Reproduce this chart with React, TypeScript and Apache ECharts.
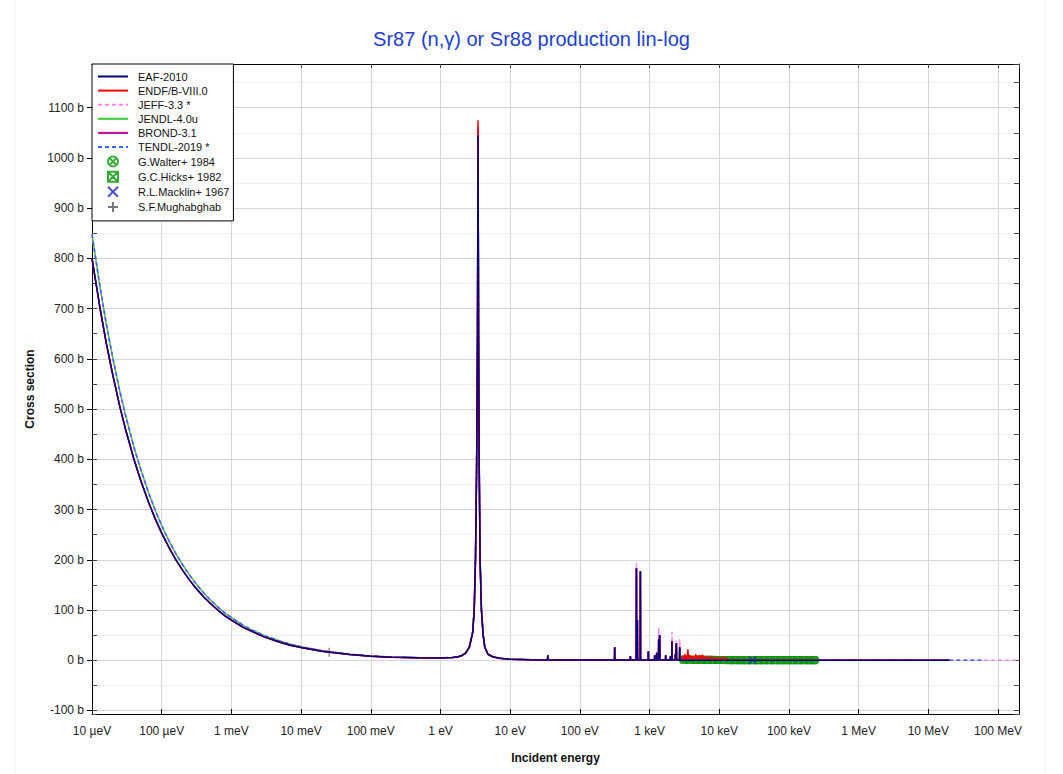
import React, { useEffect, useRef } from "react";
import * as echarts from "echarts";

// ---------- axis tick labels ----------
const xTickLabels = ["10 µeV", "100 µeV", "1 meV", "10 meV", "100 meV", "1 eV", "10 eV", "100 eV", "1 keV", "10 keV", "100 keV", "1 MeV", "10 MeV", "100 MeV"];
const xMinExp = -5;

// ---------- thermal 1/v region + 3.5 eV resonance (eV, barn) ----------
const lowEnergy = [1e-5, 1.3e-5, 1.6e-5, 2e-5, 2.5e-5, 3e-5, 4e-5, 5e-5, 6.5e-5, 8e-5, 1e-4, 1.3e-4, 1.6e-4, 2e-4, 2.5e-4, 3e-4, 4e-4, 5e-4, 6.5e-4, 8e-4, 1e-3, 1.5e-3, 2e-3, 3e-3, 5e-3, 7e-3, 1e-2, 1.5e-2, 2e-2, 3e-2, 5e-2, 0.1, 0.2, 0.5, 1, 1.5, 1.8, 2, 2.3, 2.6, 2.9, 3.05, 3.18, 3.3, 3.4, 3.46, 3.52, 3.6, 3.7, 3.87, 4.1, 4.32, 4.8, 5.6, 7, 10, 20];
const eafLowSigma = [800, 702, 632, 566, 506, 462, 400, 358, 314, 283, 253, 222, 200, 179, 160, 146, 126, 113, 99, 89, 80, 65, 57, 46, 36, 30, 25.5, 21, 18, 15, 11.5, 8.2, 6, 4.8, 4.6, 5.5, 7, 9, 14, 26, 55, 100, 200, 380, 650, 1045, 650, 380, 200, 100, 50, 26, 12, 7, 4, 2, 0.8];
const evalLowSigma = [848, 744, 670, 600, 536, 490, 424, 380, 333, 300, 268, 235, 212, 190, 170, 155, 134, 120, 105, 94.5, 85, 69, 60, 49, 38, 32, 27, 22.3, 19, 15.9, 12.2, 8.6, 6.3, 4.9, 4.7, 5.6, 7.2, 9.2, 14.5, 27, 57, 103, 205, 390, 660, 1050, 660, 390, 205, 103, 51, 27, 12.5, 7.2, 4.1, 2, 0.8];
const peakEnergy = 3.46;
const eafPeak = 1045;
const endfPeak = 1075;
const brondPeak = 1062;
const jeffPeak = 1050;
const jendlPeak = 1040;
const tendlPeak = 1045;

// ---------- resolved resonances 30 eV - 3 keV ----------
const resEnergy = [34.6, 316, 531, 648, 669, 739, 962, 1185, 1266, 1352, 1397, 1703, 1990, 2099, 2348, 2427, 2705];
const eafResPeak = [10, 26, 8, 183, 80, 177, 18, 10, 15, 42, 50, 10, 8, 38, 12, 34, 26];
const jeffResPeak = [10, 26, 8, 193, 80, 177, 18, 10, 15, 64, 50, 10, 8, 56, 12, 40, 42];
const resBase = 0.3;

const midEnergy = [30, 100, 300, 1000, 2000, 2900];
const midSigma = [0.6, 0.4, 0.3, 0.3, 0.25, 0.2];

const highEnergy = [3e3, 1e4, 3e4, 1e5, 3e5, 1e6, 3e6, 1e7, 2e7, 6e7, 2e8];
const highSigma = [0.2, 0.12, 0.09, 0.05, 0.02, 0.005, 0.002, 0.001, 0.001, 0.0005, 0.0003];

// ENDF/B-VIII.0 fluctuating structure 3 - 13 keV
const endfUrrEnergy = [2950, 3000, 3050, 3120, 3200, 3280, 3350, 3450, 3550, 3620, 3700, 3800, 3900, 4000, 4100, 4200, 4350, 4500, 4600, 4700, 4850, 5000, 5150, 5300, 5450, 5600, 5750, 5900, 6100, 6300, 6500, 6700, 6900, 7100, 7350, 7600, 7900, 8200, 8400, 8800, 9200, 9600, 10100, 10600, 11000, 11500, 12000, 12500, 13100, 13500];
const endfUrrSigma = [0.3, 8, 1, 6, 12, 2, 9, 3, 22, 2, 8, 10, 2, 7, 8, 1.5, 6, 4, 12, 2, 9, 3, 8, 10, 2, 7, 11, 3, 6, 8, 2, 6, 5, 1.5, 7, 3, 6, 2, 5, 1.5, 6, 2, 5, 1.5, 4, 7, 1.5, 4, 3, 0.2];

// ---------- experimental data ----------
const walterEnergy = [3000, 3300, 3600, 4000, 4400, 4800, 5300, 5800, 6400, 7000, 7700, 8500, 9300, 10200, 11200, 12300, 13500, 14800, 16300, 17900, 19700, 21600, 23800, 26100, 28700, 31600, 34700, 38100, 41900, 46100, 50600, 55600, 61100, 67200, 73800, 81100, 89100, 98000, 108000, 118000, 130000, 143000, 157000, 173000, 190000, 209000, 230000, 240000];
const walterSigma = [1.25, 1.1, 1.05, 0.98, 0.9, 0.86, 0.8, 0.74, 0.7, 0.64, 0.6, 0.55, 0.52, 0.48, 0.45, 0.42, 0.39, 0.37, 0.34, 0.32, 0.3, 0.28, 0.26, 0.25, 0.23, 0.22, 0.2, 0.19, 0.18, 0.17, 0.16, 0.15, 0.14, 0.135, 0.13, 0.12, 0.115, 0.11, 0.105, 0.1, 0.095, 0.09, 0.088, 0.085, 0.082, 0.08, 0.078, 0.077];
const hicksEnergy = [3150, 3800, 4600, 5500, 6700, 8000, 9700, 11700, 14000, 17000, 20500, 24700, 29800, 36000, 43400, 52400, 63200, 76300, 92000, 111000, 134000, 162000, 195000, 225000];
const hicksSigma = [1.15, 1.0, 0.88, 0.79, 0.69, 0.62, 0.54, 0.47, 0.41, 0.36, 0.31, 0.27, 0.23, 0.2, 0.18, 0.16, 0.14, 0.125, 0.11, 0.1, 0.092, 0.087, 0.082, 0.078];
const macklinEnergy = [30000];
const macklinSigma = [0.092];
const mughabghabEnergy = [0.0253];
const mughabghabSigma = [16];

const lineNames = ["EAF-2010", "ENDF/B-VIII.0", "JEFF-3.3 *", "JENDL-4.0u", "BROND-3.1", "TENDL-2019 *"];
const pointNames = ["G.Walter+ 1984", "G.C.Hicks+ 1982", "R.L.Macklin+ 1967", "S.F.Mughabghab"];

function buildCurve(lowSig: number[], peak: number, resPeaks: number[], maxE: number, withUrr: boolean) {
  const pts: number[][] = [];
  lowEnergy.forEach((e, i) => pts.push([e, e === peakEnergy ? peak : lowSig[i]]));
  midEnergy.forEach((e, i) => pts.push([e, midSigma[i]]));
  resEnergy.forEach((e, i) => {
    pts.push([e * 0.994, resBase], [e, resPeaks[i]], [e * 1.006, resBase]);
  });
  highEnergy.forEach((e, i) => {
    if (e > maxE) return;
    if (withUrr && e > 2900 && e < 13600) return;
    pts.push([e, highSigma[i]]);
  });
  if (withUrr) endfUrrEnergy.forEach((e, i) => pts.push([e, endfUrrSigma[i]]));
  pts.sort((a, b) => a[0] - b[0]);
  return pts;
}

const zip = (a: number[], b: number[]) => a.map((v, i) => [v, b[i]]);

const circleX = "path://M10,0 A10,10 0 1,1 -10,0 A10,10 0 1,1 10,0 Z M-7.07,-7.07 L7.07,7.07 M7.07,-7.07 L-7.07,7.07";
const squareX = "path://M0,0 L20,0 L20,20 L0,20 Z M0,0 L20,20 M20,0 L0,20";
const crossX = "path://M0,0 L10,10 M10,0 L0,10";
const plusSym = "path://M5,0 L5,10 M0,5 L10,5";

const FONT = "'Liberation Sans', Arial, Helvetica, sans-serif";

function lineSeries(name: string, color: string, data: number[][], dashed: boolean) {
  return {
    name,
    type: "line",
    data,
    symbol: "none",
    showSymbol: false,
    silent: true,
    lineStyle: { color, width: 1.5, type: dashed ? [4, 3] : "solid" },
    itemStyle: { color },
  };
}

function scatterSeries(name: string, color: string, symbol: string, size: number, data: number[][]) {
  return {
    name,
    type: "scatter",
    data,
    symbol,
    symbolSize: size,
    silent: true,
    itemStyle: { color: "rgba(0,0,0,0)", borderColor: color, borderWidth: 1.2 },
  };
}

export default function App() {
  const ref = useRef<HTMLDivElement>(null);
  useEffect(() => {
    const chart = echarts.init(ref.current!, null, { renderer: "svg" });
    const yMin = -107;
    const yMax = 1187;
    const option: any = {
      animation: false,
      backgroundColor: "#fff",
      title: {
        text: "Sr87 (n,γ) or Sr88 production lin-log",
        left: "center",
        top: 24,
        textStyle: { color: "#1c3fd8", fontSize: 20, fontWeight: "normal", fontFamily: FONT },
      },
      graphic: [
        { type: "line", shape: { x1: 15, y1: 0, x2: 15, y2: 774 }, style: { stroke: "#eeeeee", lineWidth: 1 }, silent: true },
        { type: "line", shape: { x1: 1045, y1: 0, x2: 1045, y2: 774 }, style: { stroke: "#eeeeee", lineWidth: 1 }, silent: true },
      ],
      legend: {
        orient: "vertical",
        left: 92,
        top: 64,
        itemWidth: 30,
        itemHeight: 10,
        itemGap: 3.1,
        padding: [7, 4, 8, 5],
        backgroundColor: "#fff",
        borderColor: "#000",
        borderWidth: 1,
        selectedMode: false,
        textStyle: { fontSize: 11, color: "#111", fontFamily: FONT, padding: [0, 0, 0, 5] },
        data: [...lineNames.map((n) => ({ name: n, itemStyle: { opacity: 0 } })), ...pointNames],
        z: 10,
      },
      grid: { left: 92, right: 44, top: 64, bottom: 60 },
      xAxis: [
        {
          type: "log",
          logBase: 10,
          min: 1e-5,
          max: 2e8,
          interval: 1,
          splitNumber: 13,
          position: "bottom",
          axisLine: { show: true, onZero: false, lineStyle: { color: "#000", width: 1 } },
          axisTick: { show: true, inside: true, length: 5, lineStyle: { color: "#000" } },
          axisLabel: {
            showMaxLabel: false,
            margin: 11,
            fontSize: 12,
            color: "#222",
            fontFamily: FONT,
            formatter: (v: number) => {
              const e = Math.log10(v);
              const r = Math.round(e);
              if (Math.abs(e - r) > 1e-6) return "";
              return xTickLabels[r - xMinExp] ?? "";
            },
          },
          splitLine: { show: true, lineStyle: { color: "#d6d6d6", width: 1 } },
          name: "Incident energy",
          nameLocation: "middle",
          nameGap: 38,
          nameTextStyle: { fontSize: 12, fontWeight: "bold", color: "#111", fontFamily: FONT },
        },
        {
          type: "log",
          logBase: 10,
          min: 1e-5,
          max: 2e8,
          interval: 1,
          splitNumber: 13,
          position: "top",
          axisLine: { show: true, onZero: false, lineStyle: { color: "#000", width: 1 } },
          axisTick: { show: true, inside: true, length: 4, lineStyle: { color: "#444" } },
          axisLabel: { show: false },
          splitLine: { show: false },
        },
      ],
      yAxis: [
        {
          type: "value",
          min: yMin,
          max: yMax,
          splitNumber: 13,
          position: "left",
          axisLine: { show: true, onZero: false, lineStyle: { color: "#000", width: 1 } },
          axisTick: { show: true, inside: false, length: 5, lineStyle: { color: "#000" } },
          minorTick: { show: false, splitNumber: 2 },
          axisLabel: {
            showMinLabel: false,
            showMaxLabel: false,
            margin: 8,
            fontSize: 12,
            color: "#222",
            fontFamily: FONT,
            formatter: (v: number) => (Math.abs(v % 100) < 1e-6 ? `${v} b` : ""),
          },
          splitLine: { show: true, lineStyle: { color: "#d6d6d6", width: 1 } },
          minorSplitLine: { show: true, lineStyle: { color: "#f0f0f0", width: 1 } },
          name: "Cross section",
          nameLocation: "middle",
          nameGap: 52,
          nameTextStyle: { fontSize: 12, fontWeight: "bold", color: "#111", fontFamily: FONT },
        },
        {
          type: "value",
          min: yMin,
          max: yMax,
          splitNumber: 13,
          position: "right",
          axisLine: { show: true, onZero: false, lineStyle: { color: "#000", width: 1 } },
          axisTick: { show: true, inside: true, length: 5, lineStyle: { color: "#444" } },
          minorTick: { show: true, splitNumber: 2, length: 5, lineStyle: { color: "#444" } },
          axisLabel: { show: false },
          splitLine: { show: false },
        },
        {
          type: "value",
          min: yMin,
          max: yMax,
          splitNumber: 13,
          position: "left",
          axisLine: { show: false, onZero: false },
          axisTick: { show: true, inside: true, length: 5, lineStyle: { color: "#444" } },
          minorTick: { show: true, splitNumber: 2, length: 5, lineStyle: { color: "#444" } },
          axisLabel: { show: false },
          splitLine: { show: false },
        },
      ],
      series: [
        lineSeries("JENDL-4.0u", "#33cc33", buildCurve(evalLowSigma, jendlPeak, eafResPeak, 2e7, false), false),
        lineSeries("JEFF-3.3 *", "#ff80ff", buildCurve(evalLowSigma, jeffPeak, jeffResPeak, 2e8, false), true),
        lineSeries("TENDL-2019 *", "#3366ff", buildCurve(evalLowSigma, tendlPeak, eafResPeak, 6e7, false), true),
        lineSeries("BROND-3.1", "#cc0099", buildCurve(eafLowSigma, brondPeak, eafResPeak, 2e7, false), false),
        lineSeries("ENDF/B-VIII.0", "#ff0000", buildCurve(eafLowSigma, endfPeak, eafResPeak, 2e7, true), false),
        lineSeries("EAF-2010", "#000080", buildCurve(eafLowSigma, eafPeak, eafResPeak, 2e7, false), false),
        scatterSeries("G.Walter+ 1984", "#009900", circleX, 7, zip(walterEnergy, walterSigma)),
        scatterSeries("G.C.Hicks+ 1982", "#009900", squareX, 7, zip(hicksEnergy, hicksSigma)),
        scatterSeries("R.L.Macklin+ 1967", "#2020cc", crossX, 7, zip(macklinEnergy, macklinSigma)),
        scatterSeries("S.F.Mughabghab", "#555555", plusSym, 9, zip(mughabghabEnergy, mughabghabSigma)),
      ],
    };
    chart.setOption(option);
    return () => chart.dispose();
  }, []);
  return (
    <div
      ref={ref}
      style={{ position: "absolute", left: 0, top: 0, width: 1063, height: 774, background: "#fff" }}
    />
  );
}
